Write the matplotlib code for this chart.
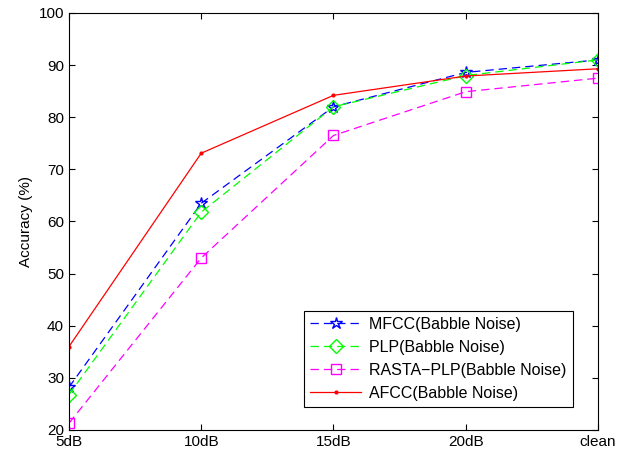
import matplotlib
matplotlib.use('Agg')
import matplotlib.pyplot as plt

plt.rcParams['font.family'] = ['Liberation Sans', 'DejaVu Sans']
plt.rcParams['font.size'] = 11
plt.rcParams['lines.scale_dashes'] = False

# Données
niveaux = ['5dB', '10dB', '15dB', '20dB', 'clean']
mfcc = [28.2, 63.5, 82.0, 88.6, 91.0]
plp = [26.8, 61.8, 82.0, 88.0, 91.0]
rasta_plp = [21.3, 53.0, 76.5, 84.9, 87.5]
afcc = [36.0, 73.1, 84.2, 87.9, 89.3]

x = list(range(len(niveaux)))
tracos = (0, (6, 3.6))

fig = plt.figure(figsize=(6.3, 4.54), dpi=100)
ax = fig.add_axes([0.1095, 0.0529, 0.8397, 0.9185])

ax.plot(x, mfcc, linestyle=tracos, color='blue', marker='*', markersize=9, markerfacecolor='none',
        markeredgecolor='blue', lw=0.9, label='MFCC(Babble Noise)')
ax.plot(x, plp, linestyle=tracos, color='#00ff00', marker='D', markersize=7.5, markerfacecolor='none',
        markeredgecolor='#00ff00', lw=0.9, label='PLP(Babble Noise)')
ax.plot(x, rasta_plp, linestyle=tracos, color='magenta', marker='s', markersize=7, markerfacecolor='none',
        markeredgecolor='magenta', lw=0.9, label='RASTA\u2212PLP(Babble Noise)')
ax.plot(x, afcc, '-', color='red', marker='.', markersize=4, lw=0.9,
        label='AFCC(Babble Noise)')

ax.set_xlim(0, 4)
ax.set_ylim(20, 100)
ax.set_xticks(x)
ax.set_xticklabels(niveaux)
ax.set_yticks(range(20, 101, 10))
ax.set_ylabel('Accuracy (%)')
ax.tick_params(direction='in', top=True, right=True, length=4)

leg = ax.legend(loc='lower right', bbox_to_anchor=(0.968, 0.035), fancybox=False,
                edgecolor='black', framealpha=1, handlelength=3.2, borderpad=0.4,
                labelspacing=0.5, handletextpad=0.5, fontsize=11.5)
leg.get_frame().set_linewidth(0.8)

fig.savefig('out.png', dpi=100)
